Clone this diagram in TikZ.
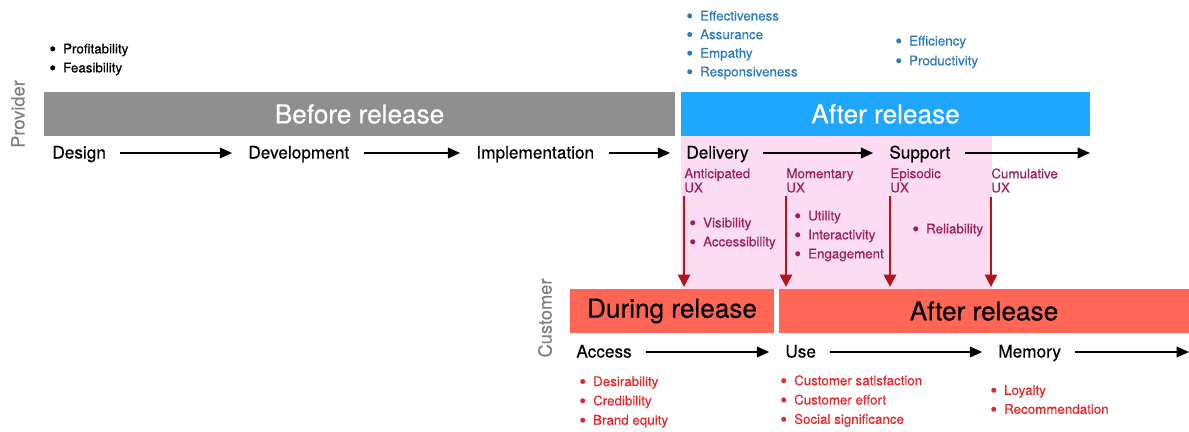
\documentclass[tikz,border=0pt]{standalone}
\usepackage{fontspec}
\setmainfont{TeX Gyre Heros}[FakeBold=0.35]
\usetikzlibrary{arrows.meta,positioning}

\definecolor{bannergray}{HTML}{8F8F8F}
\definecolor{bannerblue}{HTML}{1FA6FF}
\definecolor{bannerred}{HTML}{FF6656}
\definecolor{uxpink}{HTML}{FCDCF2}
\definecolor{uxarrow}{HTML}{B3141C}
\definecolor{uxtext}{HTML}{9B1F5E}
\definecolor{svcblue}{HTML}{2C7BBB}
\definecolor{custred}{HTML}{E5262A}
\definecolor{sidegray}{HTML}{808080}

\newcommand{\blt}[1]{\raisebox{-.3ex}{\scalebox{1.45}{\textbullet}}\hspace{4pt}#1}

\begin{document}
\begin{tikzpicture}[x=0.02cm,y=-0.02cm,
  banner/.style={minimum height=0.88cm,inner sep=0pt,font=\fontsize{14.9}{16}\selectfont},
  stage/.style={anchor=west,inner sep=0pt,text height=1.55ex,text depth=.35ex,font=\fontsize{9.8}{11}\selectfont},
  side/.style={rotate=90,inner sep=0pt,text=sidegray,font=\fontsize{10.4}{12}\selectfont},
  uxlbl/.style={anchor=west,inner sep=0pt,align=left,text=uxtext,font=\fontsize{7.6}{8}\selectfont},
  blist/.style={anchor=west,inner sep=0pt,align=left,font=\fontsize{7.6}{10.8}\selectfont},
  flow/.style={-{Triangle[length=7pt,width=6pt]},line width=1.1pt,shorten <=8pt,shorten >=9pt},
  uxflow/.style={-{Triangle[length=7pt,width=7pt]},line width=1.2pt,draw=uxarrow,shorten <=2pt,shorten >=1pt}]
\useasboundingbox (0,0) rectangle (1189,432);

% pink band behind the UX moments
\fill[uxpink] (681,136) rectangle (992,289);

% provider side
\node[banner,fill=bannergray,text=white,minimum width=12.62cm] (before) at (359.5,114) {Before release};
\node[banner,fill=bannerblue,text=white,minimum width=8.18cm] (afterprov) at (885.5,114) {After release};
\node[side] (provider) at (18,114) {Provider};

\node[stage] (design) at (52,153) {Design};
\node[stage] (develop) at (248,153) {Development};
\node[stage] (implement) at (476,153) {Implementation};
\node[stage] (delivery) at (686,153) {Delivery};
\node[stage] (support) at (889,153) {Support};
\coordinate (supend) at (1090,153);
\draw[flow] (design) -- (develop);
\draw[flow] (develop) -- (implement);
\draw[flow] (implement) -- (delivery);
\draw[flow] (delivery) -- (support);
\draw[flow,shorten >=0pt] (support) -- (supend);

\node[blist] (provlist) at (49,59.5) {\blt{Profitability}\\\blt{Feasibility}};
\node[blist,text=svcblue,font=\fontsize{7.6}{10.6}\selectfont] (svclist) at (686,45) {\blt{Effectiveness}\\\blt{Assurance}\\\blt{Empathy}\\\blt{Responsiveness}};
\node[blist,text=svcblue,font=\fontsize{7.6}{11.3}\selectfont] (effilist) at (895,52) {\blt{Efficiency}\\\blt{Productivity}};

% UX moments
\node[uxlbl] (antux) at (684,180.5) {Anticipated\\UX};
\node[uxlbl] (momux) at (786,180.5) {Momentary\\UX};
\node[uxlbl] (epiux) at (890,180.5) {Episodic\\UX};
\node[uxlbl] (cumux) at (991,180.5) {Cumulative\\UX};

\node[blist,text=uxtext] (antlist) at (689,233.5) {\blt{Visibility}\\\blt{Accessibility}};
\node[blist,text=uxtext] (momlist) at (794,236) {\blt{Utility}\\\blt{Interactivity}\\\blt{Engagement}};
\node[blist,text=uxtext] (epilist) at (912,230) {\blt{Reliability}};

% customer side
\node[banner,fill=bannerred,minimum width=4.08cm] (during) at (672,311) {During release};
\node[banner,fill=bannerred,minimum width=8.2cm] (aftercust) at (984,311) {After release};
\node[side] (customer) at (545,318) {Customer};

\draw[uxflow] (antux.south west) -- (antux.south west |- during.north);
\draw[uxflow] (momux.south west) -- (momux.south west |- aftercust.north);
\draw[uxflow] (epiux.south west) -- (epiux.south west |- aftercust.north);
\draw[uxflow] (cumux.south west) -- (cumux.south west |- aftercust.north);

\node[stage] (access) at (576,352) {Access};
\node[stage] (use) at (785,352) {Use};
\node[stage] (memory) at (998,352) {Memory};
\coordinate (memend) at (1189,352);
\draw[flow] (access) -- (use);
\draw[flow] (use) -- (memory);
\draw[flow,shorten >=0pt] (memory) -- (memend);

\node[blist,text=custred,font=\fontsize{7.6}{11}\selectfont] (acclist) at (579,402) {\blt{Desirability}\\\blt{Credibility}\\\blt{Brand equity}};
\node[blist,text=custred,font=\fontsize{7.6}{11}\selectfont] (uselist) at (780,401) {\blt{Customer satisfaction}\\\blt{Customer effort}\\\blt{Social significance}};
\node[blist,text=custred] (memlist) at (990,400.5) {\blt{Loyalty}\\\blt{Recommendation}};
\end{tikzpicture}
\end{document}
